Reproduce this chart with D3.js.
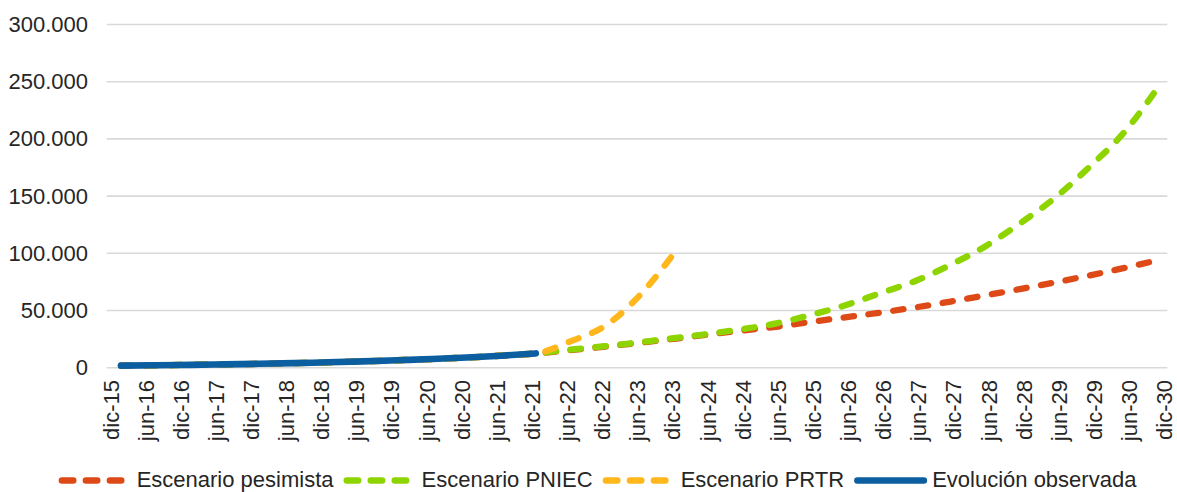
<!DOCTYPE html>
<html>
<head>
<meta charset="utf-8">
<script src="https://cdn.jsdelivr.net/npm/d3@7"></script>
<style>
  html, body { margin: 0; padding: 0; background: #fff; }
  svg { display: block; font-family: "Liberation Sans", Arial, sans-serif; }
</style>
</head>
<body>
<svg id="chart" width="1177" height="492"></svg>
<script>
// Half-yearly periods shown on the category axis
const periods = [
  "dic-15","jun-16","dic-16","jun-17","dic-17","jun-18","dic-18","jun-19","dic-19",
  "jun-20","dic-20","jun-21","dic-21","jun-22","dic-22","jun-23","dic-23","jun-24",
  "dic-24","jun-25","dic-25","jun-26","dic-26","jun-27","dic-27","jun-28","dic-28",
  "jun-29","dic-29","jun-30","dic-30"
];

// Observed values, dic-15 .. dic-21
const observed = [1800, 2100, 2500, 2900, 3400, 4000, 4700, 5500, 6500, 7600, 8900, 10500, 12500];

// Projections, starting at dic-21
const pesimistaProj = [12500, 15400, 18400, 21800, 25300, 29000, 32600, 36000, 40200, 44200,
                       48300, 52800, 57800, 63200, 68700, 74500, 80500, 87000, 94000];
const pniecProj = [12500, 15800, 18800, 22200, 25800, 29600, 33800, 39000, 46500, 55000,
                   65500, 76000, 90000, 106000, 126000, 148000, 175000, 205000, 245000];
const prtrProj = [12500, 23000, 36500, 63000, 100000];

const yTicks = [0, 50000, 100000, 150000, 200000, 250000, 300000];

const seriesNames = ["Escenario pesimista", "Escenario PNIEC", "Escenario PRTR", "Evolución observada"];
const seriesColors = ["#DE4A17", "#8ED400", "#FFB71B", "#0B5EA0"];

// Each scenario continues the observed history
const history = observed.slice(0, observed.length - 1);
const series = [
  { name: seriesNames[0], color: seriesColors[0], dashed: true,  values: history.concat(pesimistaProj) },
  { name: seriesNames[1], color: seriesColors[1], dashed: true,  values: history.concat(pniecProj) },
  { name: seriesNames[2], color: seriesColors[2], dashed: true,  values: history.concat(prtrProj) },
  { name: seriesNames[3], color: seriesColors[3], dashed: false, values: observed }
];

const svg = d3.select("#chart");
const W = 1177, H = 492;
svg.append("rect").attr("width", W).attr("height", H).attr("fill", "#fff");

const plot = { left: 106.7, right: 1167.3, top: 24.5, bottom: 367.7 };
const textColor = "#262626";
const fontSize = 22;

const y = d3.scaleLinear().domain([0, 300000]).range([plot.bottom, plot.top]);
const xData = d3.scalePoint().domain(periods).range([121, 1158]);
const xLabel = d3.scalePoint().domain(periods).range([110.3, 1164]);

const es = d3.formatLocale({ decimal: ",", thousands: ".", grouping: [3], currency: ["", " €"] });
const fmt = es.format(",d");

// Horizontal gridlines
svg.append("g").selectAll("line").data(yTicks).join("line")
  .attr("x1", plot.left).attr("x2", plot.right)
  .attr("y1", d => y(d)).attr("y2", d => y(d))
  .attr("stroke", "#d9d9d9").attr("stroke-width", 1.6);

// Y axis labels
const yAxis = d3.axisLeft(y).tickValues(yTicks).tickFormat(fmt).tickSize(0).tickPadding(0);
const gy = svg.append("g").attr("transform", "translate(88,0)").call(yAxis);
gy.select(".domain").remove();
gy.selectAll("text").attr("font-size", fontSize).attr("fill", textColor)
  .attr("font-family", "Liberation Sans, Arial, sans-serif");

// X axis labels, rotated
const xAxis = d3.axisBottom(xLabel).tickSize(0).tickPadding(0);
const gx = svg.append("g").attr("transform", "translate(0,380)").call(xAxis);
gx.select(".domain").remove();
gx.selectAll("text")
  .attr("font-size", fontSize).attr("fill", textColor)
  .attr("font-family", "Liberation Sans, Arial, sans-serif")
  .attr("text-anchor", "end")
  .attr("transform", "rotate(-90)")
  .attr("x", 0).attr("y", 0).attr("dy", "0.35em");

// Lines
const line = d3.line()
  .x((d, i) => xData(periods[i]))
  .y(d => y(d))
  .curve(d3.curveMonotoneX);

const lineWidth = 6.3;
svg.append("g").selectAll("path").data(series).join("path")
  .attr("d", d => line(d.values))
  .attr("fill", "none")
  .attr("stroke", d => d.color)
  .attr("stroke-width", d => d.dashed ? lineWidth : 6.6)
  .attr("stroke-linecap", "round")
  .attr("stroke-linejoin", "round")
  .attr("stroke-dasharray", d => d.dashed ? "10.4,14.6" : null);

// Legend
const legend = svg.append("g");
const sampleW = 73, sampleGap = 5, itemGap = 10, legendY = 480.5;
let cursor = 0;
series.forEach(s => {
  const g = legend.append("g");
  g.append("line")
    .attr("x1", 3.3).attr("x2", sampleW - 3.3)
    .attr("y1", legendY).attr("y2", legendY)
    .attr("stroke", s.color).attr("stroke-width", 6.6)
    .attr("stroke-linecap", "round")
    .attr("stroke-dasharray", s.dashed ? "11.3,12.7" : null);
  const t = g.append("text")
    .attr("x", sampleW + sampleGap).attr("y", legendY + 6)
    .attr("font-size", fontSize).attr("fill", textColor)
    .text(s.name);
  const w = t.node().getComputedTextLength();
  g.attr("transform", `translate(${cursor},0)`);
  cursor += sampleW + sampleGap + w + itemGap;
});
const total = cursor - itemGap;
legend.attr("transform", `translate(${597.5 - total / 2},0)`);
</script>
</body>
</html>
